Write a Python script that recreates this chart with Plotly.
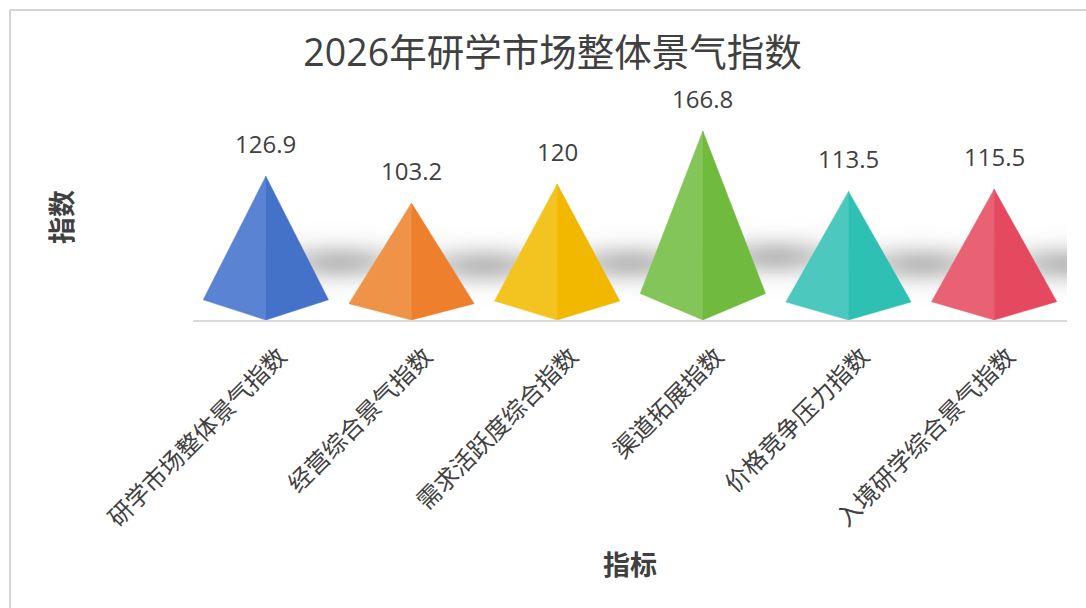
import numpy as np
import plotly.graph_objects as go

categories = ["研学市场整体景气指数", "经营综合景气指数", "需求活跃度综合指数", "渠道拓展指数", "价格竞争压力指数", "入境研学综合景气指数"]
values = [126.9, 103.2, 120, 166.8, 113.5, 115.5]
left_colors = ["#5B83D3", "#EF9349", "#F3C41F", "#84C55A", "#4CC8BE", "#E96274"]
right_colors = ["#4472C9", "#EE7F2D", "#F2B800", "#70BA3E", "#2EC1B3", "#E5495F"]
value_labels = ["126.9", "103.2", "120", "166.8", "113.5", "115.5"]

FONT = "Open Sans, Noto Sans CJK SC, sans-serif"
CJK = "Noto Sans CJK SC, sans-serif"
TEXT = "#404040"
W, H = 1086, 608
L, R, T, B = 193, 19, 100, 288
HALF = 0.43
SHOULDER = 0.14
YMAX = (H - B - T) / 1.133

fig = go.Figure()

# Soft blurred shadow behind the pyramids
gx = np.linspace(-0.5, 5.5, 500)
gy = np.linspace(0, YMAX, 160)
XX, YY = np.meshgrid(gx, gy)
field = np.zeros_like(XX)
for i, v in enumerate(values):
    cx = i + 0.5
    cy = 48 + (v - 100) * 0.12
    field += np.exp(-((XX - cx) / 0.40) ** 2 - ((YY - cy) / 16) ** 2)
field = np.clip(field, 0, 1)
fig.add_trace(go.Heatmap(
    x=gx, y=gy, z=field, zmin=0, zmax=1, zsmooth="best", showscale=False, hoverinfo="skip",
    colorscale=[[0, "rgba(190,190,190,0)"], [1, "rgba(190,190,190,1)"]],
))

# Pyramid faces
for i, (v, lc, rc) in enumerate(zip(values, left_colors, right_colors)):
    s = v * SHOULDER
    fig.add_trace(go.Scatter(x=[i, i - HALF, i, i], y=[v, s, 0, v], mode="lines", fill="toself",
                             fillcolor=lc, line=dict(width=0.5, color=lc), showlegend=False, hoverinfo="skip"))
    fig.add_trace(go.Scatter(x=[i, i + HALF, i, i], y=[v, s, 0, v], mode="lines", fill="toself",
                             fillcolor=rc, line=dict(width=0.5, color=rc), showlegend=False, hoverinfo="skip"))

# Value labels
for i, (v, t) in enumerate(zip(values, value_labels)):
    fig.add_annotation(x=i, y=v, text=t, showarrow=False, yshift=33, yanchor="middle",
                       font=dict(family=FONT, size=24, color=TEXT))

def px(x):
    return (x - L) / (W - L - R)

def py(y):
    return (H - B - y) / (H - T - B)

border = dict(color="#D4D4D4", width=2)
fig.add_shape(type="line", xref="paper", yref="paper", x0=px(10), x1=px(10), y0=py(10), y1=py(608), line=border)
fig.add_shape(type="line", xref="paper", yref="paper", x0=px(10), x1=px(1086), y0=py(10), y1=py(10), line=border)

fig.update_layout(
    width=W, height=H, margin=dict(l=L, r=R, t=T, b=B), autosize=False,
    paper_bgcolor="white", plot_bgcolor="rgba(0,0,0,0)", showlegend=False,
    font=dict(family=FONT, color=TEXT),
    title=dict(text="2026年研学市场整体景气指数", x=552.5 / W, xanchor="center", y=1 - 53 / H, yanchor="middle",
               font=dict(family=FONT, size=37.5, color=TEXT)),
    xaxis=dict(range=[-0.5, 5.5], tickmode="array", tickvals=list(range(6)), ticktext=categories,
               tickangle=-45, tickfont=dict(family=CJK, size=24, color=TEXT), showgrid=False, zeroline=False,
               showline=True, linecolor="#D9DBDB", linewidth=2, ticks="", ticklabelstandoff=11, ticklabelshift=14),
    yaxis=dict(range=[0, YMAX], visible=False),
)
fig.add_annotation(xref="paper", yref="paper", x=px(630), y=py(563), text="<b>指标</b>", showarrow=False,
                   xanchor="center", yanchor="middle", font=dict(family=CJK, size=27, color=TEXT))
fig.add_annotation(xref="paper", yref="paper", x=px(60), y=py(217), text="<b>指数</b>", showarrow=False, textangle=-90,
                   xanchor="center", yanchor="middle", font=dict(family=CJK, size=27, color=TEXT))

fig.write_html("out.html", config={"displayModeBar": False}, post_script="document.body.style.margin='0';")
